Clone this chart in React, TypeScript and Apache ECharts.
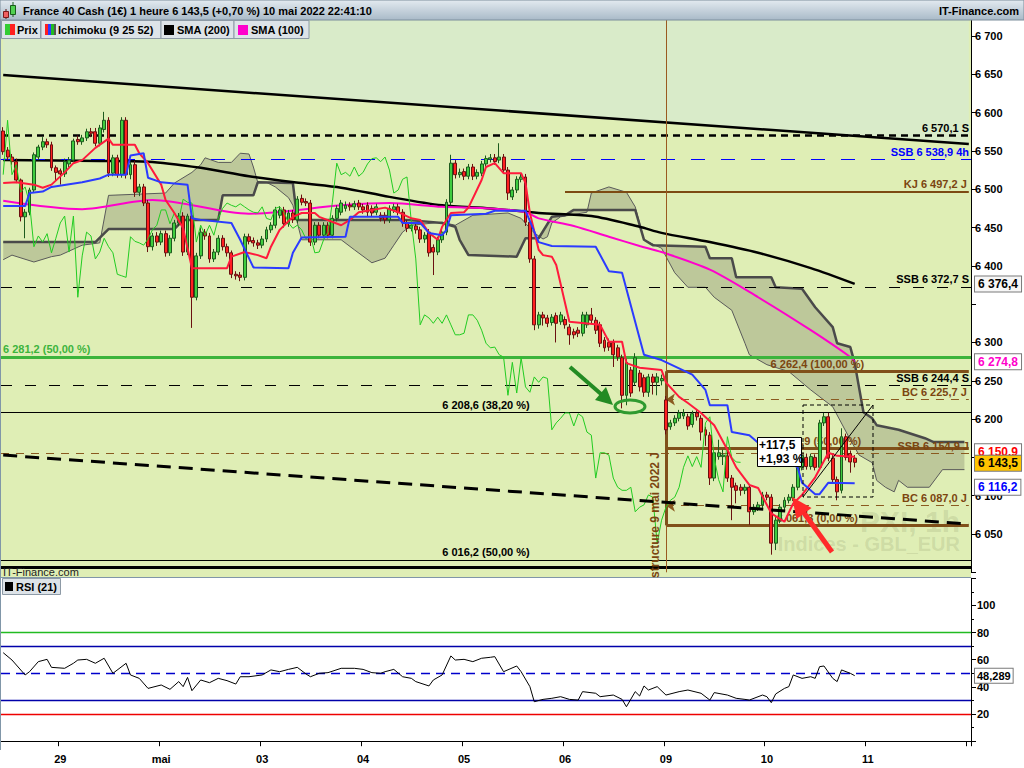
import React, { useEffect, useRef } from "react";
import * as echarts from "echarts";

// ---------- time slots ----------
const SLOTS_PER_DAY = 23;
const FIRST_DAY_SLOT = 13;
const SLOT_COUNT = 221;
const dayLabels = ["29", "mai", "03", "04", "05", "06", "09", "10", "11", ""];

// ---------- candles [open, close, low, high] ----------
const candles: number[][] = [
  [6576,6549,6545,6581],[6551,6542,6538,6555],[6542,6536,6532,6546],[6536,6512,6508,6540],[6512,6464,6458,6514],
  [6464,6470,6436,6474],[6470,6499,6466,6502],[6499,6545,6496,6548],[6542,6555,6538,6558],[6555,6562,6551,6568],
  [6562,6558,6554,6566],[6558,6528,6524,6562],[6528,6522,6512,6531],[6524,6520,6506,6527],[6520,6536,6516,6540],
  [6533,6538,6529,6542],[6538,6563,6535,6566],[6565,6562,6558,6570],[6562,6567,6558,6571],[6567,6575,6563,6579],
  [6575,6573,6568,6580],[6575,6560,6556,6580],[6560,6580,6556,6584],[6578,6590,6574,6601],[6590,6521,6516,6594],
  [6521,6541,6517,6545],[6541,6519,6515,6545],[6519,6590,6515,6594],[6590,6519,6514,6594],[6519,6532,6513,6536],
  [6532,6496,6490,6537],[6496,6503,6491,6507],[6503,6482,6478,6507],[6482,6425,6418,6486],[6425,6439,6420,6443],
  [6439,6431,6426,6444],[6431,6442,6427,6446],[6442,6417,6412,6446],[6417,6436,6413,6440],[6436,6456,6432,6460],
  [6456,6465,6452,6469],[6465,6418,6413,6470],[6418,6465,6414,6468],[6465,6359,6319,6469],[6359,6413,6355,6417],
  [6413,6444,6409,6450],[6444,6439,6434,6448],[6439,6409,6404,6443],[6409,6418,6405,6422],[6418,6436,6414,6440],
  [6436,6425,6420,6440],[6425,6417,6412,6429],[6417,6389,6384,6420],[6389,6387,6382,6393],[6388,6385,6380,6392],
  [6385,6438,6381,6442],[6438,6432,6428,6442],[6433,6430,6425,6437],[6430,6427,6422,6434],[6427,6435,6423,6439],
  [6435,6447,6431,6451],[6447,6453,6443,6457],[6453,6473,6449,6477],[6466,6473,6462,6478],[6473,6455,6450,6477],
  [6455,6469,6451,6473],[6469,6460,6456,6473],[6460,6487,6456,6491],[6488,6483,6479,6493],[6484,6482,6478,6488],
  [6482,6431,6426,6486],[6431,6453,6427,6457],[6453,6440,6436,6457],[6440,6453,6436,6457],[6453,6440,6436,6457],
  [6440,6462,6436,6466],[6462,6475,6458,6479],[6470,6482,6466,6486],[6475,6479,6471,6484],[6479,6477,6472,6483],
  [6477,6481,6473,6485],[6482,6477,6473,6486],[6477,6473,6468,6481],[6479,6470,6465,6483],[6475,6469,6464,6479],
  [6470,6477,6466,6481],[6466,6462,6458,6470],[6466,6460,6455,6470],[6460,6475,6456,6479],[6473,6477,6469,6481],
  [6477,6470,6466,6481],[6470,6456,6451,6474],[6456,6449,6444,6460],[6449,6453,6445,6457],[6452,6447,6442,6456],
  [6447,6435,6430,6451],[6435,6440,6430,6444],[6444,6417,6412,6448],[6424,6418,6388,6428],[6418,6434,6414,6438],
  [6434,6444,6430,6448],[6444,6483,6440,6487],[6483,6534,6479,6545],[6534,6519,6514,6538],[6519,6522,6515,6527],
  [6523,6517,6512,6527],[6517,6529,6513,6533],[6529,6517,6512,6533],[6517,6522,6513,6526],[6521,6533,6517,6537],
  [6533,6540,6529,6544],[6539,6541,6535,6546],[6541,6536,6532,6546],[6538,6542,6534,6560],[6542,6525,6520,6546],
  [6525,6495,6486,6529],[6490,6499,6486,6503],[6499,6513,6495,6517],[6513,6516,6509,6521],[6516,6457,6452,6520],
  [6457,6409,6404,6462],[6409,6323,6316,6413],[6323,6336,6318,6340],[6336,6332,6322,6340],[6332,6325,6320,6336],
  [6326,6333,6322,6337],[6335,6325,6300,6339],[6327,6336,6323,6340],[6330,6323,6318,6334],[6320,6310,6297,6324],
  [6314,6310,6305,6318],[6316,6312,6307,6320],[6312,6336,6308,6340],[6323,6336,6319,6340],[6336,6329,6325,6345],
  [6329,6316,6311,6333],[6323,6299,6294,6327],[6303,6293,6288,6307],[6300,6294,6289,6305],[6300,6284,6268,6304],
  [6293,6281,6276,6297],[6280,6231,6214,6284],[6231,6274,6218,6279],[6264,6234,6229,6268],[6248,6280,6244,6286],
  [6260,6242,6236,6264],[6254,6235,6229,6258],[6235,6255,6229,6259],[6255,6248,6232,6259],[6248,6255,6231,6260],
  [6250,6253,6244,6258],[6225,6186,6180,6230],[6190,6195,6186,6199],[6195,6201,6191,6205],[6201,6208,6197,6212],
  [6204,6208,6200,6213],[6203,6191,6186,6207],[6193,6207,6189,6211],[6208,6203,6198,6212],[6201,6183,6172,6205],
  [6186,6179,6165,6190],[6179,6123,6114,6183],[6123,6156,6119,6160],[6151,6156,6147,6173],[6151,6153,6140,6160],
  [6152,6123,6118,6160],[6123,6111,6068,6127],[6113,6107,6090,6117],[6111,6107,6100,6115],[6107,6111,6102,6115],
  [6111,6079,6062,6115],[6079,6085,6075,6089],[6084,6088,6080,6092],[6088,6101,6084,6105],[6101,6098,6094,6105],
  [6098,6038,6023,6102],[6038,6068,6029,6072],[6068,6085,6064,6089],[6085,6094,6081,6098],[6094,6098,6090,6102],
  [6097,6111,6093,6115],[6111,6137,6107,6141],[6137,6152,6133,6156],[6150,6138,6134,6155],[6138,6151,6134,6155],
  [6150,6137,6133,6154],[6137,6195,6133,6199],[6195,6203,6191,6208],[6203,6149,6145,6208],[6149,6121,6116,6153],
  [6121,6105,6094,6125],[6107,6177,6103,6188],[6177,6150,6146,6181],[6155,6144,6130,6159],[6149,6143.5,6137,6153],
];

// ---------- indicator lines [slot, value] ----------
const tenkan = [[0,6508],[3,6509],[7,6506],[9,6502],[11,6506],[14,6522],[16,6534],[18,6538],[21,6554],[24,6566],[25,6558],[30,6558],[31,6547],[33,6534],[36,6506],[37,6486],[39,6469],[41,6449],[43,6397],[51,6397],[52,6412],[55,6418],[58,6414],[60,6410],[61,6425],[63,6447],[66,6464],[68,6469],[71,6469],[72,6464],[77,6453],[79,6460],[81,6470],[84,6473],[87,6476],[90,6470],[93,6462],[95,6460],[97,6443],[99,6434],[100,6451],[102,6469],[105,6470],[106,6476],[109,6512],[110,6529],[112,6534],[114,6521],[118,6521],[119,6508],[120,6469],[122,6421],[123,6414],[125,6412],[126,6401],[129,6327],[136,6323],[138,6301],[141,6301],[142,6273],[145,6267],[150,6264],[151,6248],[154,6229],[156,6221],[159,6208],[162,6192],[165,6160],[167,6137],[170,6114],[172,6110],[175,6077],[178,6066],[180,6090],[182,6101],[185,6124],[188,6156],[190,6152],[194,6150.9]];
const kijun = [[0,6478],[5,6478],[6,6495],[9,6497],[11,6503],[18,6509],[22,6514],[24,6519],[28,6519],[29,6544],[32,6547],[33,6515],[36,6509],[42,6506],[43,6462],[45,6460],[52,6456],[54,6434],[57,6398],[65,6397],[66,6417],[68,6437],[78,6438],[79,6464],[90,6464],[91,6456],[95,6456],[97,6443],[100,6440],[101,6447],[102,6466],[110,6468],[112,6472],[119,6472],[122,6431],[125,6426],[135,6425],[138,6393],[141,6391],[146,6284],[150,6277],[157,6258],[160,6238],[161,6218],[165,6218],[166,6183],[170,6179],[172,6169],[181,6137],[182,6117],[185,6102],[186,6102],[188,6117],[194,6116.2]];
const ssa = [[0,6408],[2,6414],[7,6405],[11,6412],[13,6414],[18,6427],[22,6430],[24,6492],[37,6495],[39,6508],[43,6522],[45,6532],[46,6541],[49,6535],[52,6535],[54,6547],[56,6546],[57,6529],[58,6509],[60,6509],[62,6503],[65,6489],[66,6479],[68,6434],[77,6434],[80,6421],[84,6404],[87,6410],[89,6427],[91,6444],[93,6453],[100,6457],[103,6453],[107,6466],[115,6469],[118,6462],[121,6443],[123,6435],[124,6438],[125,6456],[127,6464],[133,6470],[134,6495],[138,6503],[142,6496],[144,6477],[146,6434],[147,6431],[150,6423],[153,6391],[156,6372],[160,6372],[162,6359],[166,6342],[169,6299],[170,6284],[174,6271],[179,6262],[184,6238],[189,6216],[193,6173],[195,6153],[198,6143],[199,6120],[201,6111],[203,6105],[204,6120],[206,6111],[211,6111],[214,6134],[219,6134]];
const ssb = [[0,6431],[21,6431],[24,6448],[39,6448],[41,6460],[49,6460],[50,6492],[57,6492],[58,6509],[66,6508],[67,6460],[92,6460],[100,6456],[103,6451],[104,6434],[106,6414],[117,6412],[119,6436],[122,6436],[125,6464],[128,6466],[130,6473],[144,6473],[146,6434],[148,6427],[160,6425],[161,6410],[166,6410],[167,6385],[175,6385],[176,6372],[182,6370],[185,6346],[189,6320],[190,6299],[193,6294],[194,6273],[196,6209],[198,6201],[199,6192],[204,6186],[210,6175],[212,6170],[219,6170]];
const sma200 = [[0,6538],[22,6537],[33,6536],[45,6528],[56,6517],[68,6508],[77,6502],[88,6490],[100,6479],[111,6475],[122,6469],[134,6465],[145,6451],[150,6443],[161,6431],[172,6417],[184,6397],[194,6376.4]];
const sma100 = [[0,6485],[18,6474],[34,6486],[56,6468],[77,6479],[88,6482],[100,6477],[111,6475],[119,6470],[122,6462],[130,6452],[138,6438],[145,6426],[150,6418],[161,6395],[172,6359],[184,6316],[193,6281],[194,6274.8]];
const rsi = [[0,65.2],[2,59.8],[5,48.8],[6,51.2],[8,58.6],[10,60.3],[11,54.4],[14,53.7],[16,57.4],[17,59.8],[19,60.3],[21,57.4],[23,61.1],[25,50],[28,57.4],[29,48.8],[31,46.3],[33,38.9],[36,41.4],[38,38.2],[40,43.9],[41,40.2],[42,47],[43,37.2],[45,45.1],[47,43.1],[49,46.3],[51,44.6],[53,42.1],[54,47.5],[56,47.5],[59,48.8],[61,52.5],[63,51.2],[65,52.9],[67,54.4],[69,49.5],[70,47.5],[72,50],[74,50.5],[77,53.7],[80,53.7],[82,52.9],[84,50.5],[86,50],[87,51.2],[89,52.9],[91,47.5],[93,46.3],[94,43.9],[97,40.7],[98,45.1],[100,48.8],[102,62.8],[103,59.8],[105,60.3],[107,58.6],[109,61.1],[111,61.8],[112,62.3],[114,51.2],[117,55.4],[118,51.2],[120,40.2],[121,29.1],[123,30.8],[125,31.6],[127,32.8],[129,30.8],[131,30.3],[132,36.5],[135,35.3],[136,32.8],[139,34],[141,30.8],[142,25.4],[144,36.5],[145,33.3],[146,40.7],[147,37.7],[149,40.2],[151,34],[154,36.5],[156,37.7],[159,35.3],[161,30.3],[162,35.8],[165,34],[167,31.6],[169,30.8],[170,30.3],[173,34],[174,32.8],[175,28.4],[176,34.8],[178,38.9],[179,40.2],[180,48.8],[182,46.3],[184,47.5],[185,46.3],[186,54.9],[187,55.4],[189,46.3],[190,43.9],[191,52.5],[193,50],[194,48.289]];
const rsiLevels = [80, 70, 50, 30, 20];
const topTrend = [[0,6649],[220,6559]];
const lowTrend = [[0,6153],[220,6063]];
const CHIKOU_SHIFT = 26;

// ---------- horizontal levels ----------
const levels = [
  { v: 6570.1, pre: "", suf: " S", kind: "blackBold", from: 0, pos: "end" },
  { v: 6538.9, pre: "SSB ", suf: " 4h", kind: "blue", from: 0, pos: "end" },
  { v: 6497.2, pre: "KJ ", suf: " J", kind: "brown", from: 128, pos: "end" },
  { v: 6372.7, pre: "SSB ", suf: " S", kind: "black", from: 0, pos: "end" },
  { v: 6281.2, pre: "", suf: " (50,00 %)", kind: "green", from: 0, pos: "start" },
  { v: 6262.4, pre: "", suf: " (100,00 %)", kind: "fib", from: 151, pos: "middle" },
  { v: 6244.4, pre: "SSB ", suf: " S", kind: "black", from: 0, pos: "end" },
  { v: 6225.7, pre: "BC ", suf: " J", kind: "brownDash", from: 151, pos: "end" },
  { v: 6208.6, pre: "", suf: " (38,20 %)", kind: "thin", from: 0, pos: "middle" },
  { v: 6161.9, pre: "", suf: " (50,00 %)", kind: "fib", from: 151, pos: "middle" },
  { v: 6154.9, pre: "SSB ", suf: " J", kind: "brownDash", from: 0, pos: "end" },
  { v: 6087.0, pre: "BC ", suf: " J", kind: "brownDash", from: 151, pos: "end" },
  { v: 6061.3, pre: "", suf: " (0,00 %)", kind: "fib", from: 151, pos: "middle" },
  { v: 6016.2, pre: "", suf: " (50,00 %)", kind: "thin", from: 0, pos: "middle" },
  { v: 6007, pre: "", suf: "", kind: "thick", from: 0, pos: "none" },
];
// last values shown on the price axis (nudge = label shift to keep boxes readable)
const lastValues = [
  { v: 6376.4, color: "#000000", bg: "#f6f6f6", nudge: 0 },
  { v: 6274.8, color: "#ff00cc", bg: "#ffffff", nudge: 0 },
  { v: 6150.9, color: "#ff0000", bg: "#ffffff", nudge: -5 },
  { v: 6143.5, color: "#000000", bg: "#ffc400", nudge: 1 },
  { v: 6116.2, color: "#0000ff", bg: "#ffffff", nudge: 4 },
];
const LAST_RSI = 48.289;
const hiddenPriceLabels = [6000, 6150, 6350];

const FONT = '"Liberation Sans", Arial, Helvetica, sans-serif';
const BROWN = "#7b4510";
const INVISIBLE = { color: "rgba(0,0,0,0)", width: 0, opacity: 1 };

function fr(v: number, dec = 1) {
  const s = v.toFixed(dec);
  const parts = s.split(".");
  const g = parts[0].replace(/\B(?=(\d{3})+(?!\d))/g, " ");
  return parts.length > 1 ? g + "," + parts[1] : g;
}

const isDayStart = (i: number) => i >= FIRST_DAY_SLOT && (i - FIRST_DAY_SLOT) % SLOTS_PER_DAY === 0;

const lvlStyle: any = {
  blackBold: { color: "#000", width: 2.5, type: [7, 5] },
  blue: { color: "#0000ff", width: 1, type: [14, 16] },
  brown: { color: "#7d4a12", width: 2, type: "solid" },
  black: { color: "#000", width: 1, type: [11, 13] },
  green: { color: "#3cb43c", width: 3, type: "solid" },
  fib: { color: "#80501a", width: 3, type: "solid" },
  brownDash: { color: "#8a5a20", width: 1, type: [8, 7] },
  thin: { color: "#000", width: 1, type: "solid" },
  thick: { color: "#000", width: 3, type: "solid" },
};
const lvlText: any = {
  blackBold: "#000", blue: "#0000ff", brown: BROWN, black: "#000", green: "#3cb43c",
  fib: BROWN, brownDash: BROWN, thin: "#000", thick: "#000",
};

function txt(x: number, y: number, text: string, font: string, fill: string, align = "left", z = 31, extra: any = {}) {
  return {
    type: "text", z, silent: true, x, y, ...extra,
    style: { text, font, fill, align, verticalAlign: "middle", textAlign: align, textVerticalAlign: "middle" },
  };
}

function buildOption() {
  const slots = Array.from({ length: SLOT_COUNT }, (_, i) => String(i));
  const closes = candles.map((c) => c[1]);
  const chikou = closes.slice(CHIKOU_SHIFT).map((c, i) => [i, c]);
  const lastSlot = SLOT_COUNT - 1;

  const levelMarks: any[] = levels.map((l) => {
    const lineStyle = { ...lvlStyle[l.kind] };
    const posMap: any = { end: "insideEndTop", start: "insideStartTop", middle: "insideMiddleTop" };
    const label = l.pos === "none"
      ? { show: false }
      : {
          show: true, formatter: l.pre + fr(l.v) + l.suf, position: posMap[l.pos], color: lvlText[l.kind],
          fontWeight: "bold", fontSize: 11, fontFamily: FONT, distance: 2,
        };
    if (l.from === 0) return { yAxis: l.v, lineStyle, label };
    const arrow = l.kind === "brownDash";
    return [
      { coord: [l.from, l.v], lineStyle, label, symbol: arrow ? "arrow" : "none", symbolSize: arrow ? 9 : 0 },
      { coord: [lastSlot, l.v], symbol: "none" },
    ];
  });
  // structure vertical lines (9 mai)
  levelMarks.push({ xAxis: 151, lineStyle: { color: "#9a5a20", width: 1, type: "solid" }, label: { show: false } });
  levelMarks.push([
    { coord: [151, 6262.4], lineStyle: { color: "#80501a", width: 3, type: "solid" }, label: { show: false }, symbol: "none" },
    { coord: [151, 6061.3], symbol: "none" },
  ]);

  const boxMarks = lastValues.map((b) => ({
    yAxis: b.v,
    lineStyle: INVISIBLE,
    label: {
      show: true, position: "end", distance: 4, offset: [0, b.nudge], formatter: fr(b.v), color: b.color, backgroundColor: b.bg,
      borderColor: "#7a7a7a", borderWidth: 1, padding: [2, 3, 1, 3], fontWeight: "bold", fontSize: 12, fontFamily: FONT,
      opacity: 1,
    },
  }));

  const rsiColors: any = { 80: "#22bb22", 70: "#0000aa", 50: "#0000cc", 30: "#0000aa", 20: "#ee0000" };
  const rsiMarks: any[] = rsiLevels.map((v) => ({
    yAxis: v,
    lineStyle: { color: rsiColors[v], width: 1.3, type: v === 50 ? [9, 6] : "solid" },
    label: { show: false },
  }));
  rsiMarks.push({
    yAxis: LAST_RSI,
    lineStyle: INVISIBLE,
    label: {
      show: true, position: "end", distance: 4, formatter: fr(LAST_RSI, 3), color: "#000", backgroundColor: "#ffffff",
      borderColor: "#7a7a7a", borderWidth: 1, padding: [2, 2, 1, 2], fontWeight: "bold", fontSize: 11, fontFamily: FONT,
      opacity: 1,
    },
  });

  const lineBase = { type: "line", symbol: "none", showSymbol: false, silent: true, xAxisIndex: 0, yAxisIndex: 0 };
  const header = new echarts.graphic.LinearGradient(0, 0, 0, 1, [
    { offset: 0, color: "#e3eaf0" },
    { offset: 1, color: "#a9bac8" },
  ]);
  const B11 = "bold 11px " + FONT;

  const legendBox = (x: number, w: number) => ({
    type: "rect", z: 31, silent: true, shape: { x, y: 20.5, width: w, height: 18 },
    style: { fill: "#dde3e8", stroke: "#8d9aa6", lineWidth: 1 },
  });
  const sq = (x: number, y: number, w: number, h: number, fill: string, z = 32) => ({
    type: "rect", z, silent: true, shape: { x, y, width: w, height: h }, style: { fill },
  });

  const graphic: any[] = [
    // price panel background
    { type: "rect", z: -10, silent: true, shape: { x: 1, y: 20, width: 970, height: 557 }, style: { fill: "#dfeeb5" } },
    // frame
    { type: "line", z: 9, silent: true, shape: { x1: 0.5, y1: 20, x2: 0.5, y2: 750 }, style: { stroke: "#8096a8", lineWidth: 1 } },
    { type: "line", z: 9, silent: true, shape: { x1: 0, y1: 577.5, x2: 971, y2: 577.5 }, style: { stroke: "#8096a8", lineWidth: 1 } },
    // watermark
    txt(960, 521, "PXI, 1h", "bold 30px " + FONT, "rgba(90,100,60,0.15)", "right", 1),
    txt(960, 544, "Indices - GBL_EUR", "bold 20px " + FONT, "rgba(90,100,60,0.15)", "right", 1),
    // header bar
    { type: "rect", z: 30, silent: true, shape: { x: 0, y: 0, width: 1024, height: 20 }, style: { fill: header, stroke: "#7d8e9c", lineWidth: 1 } },
    // header icon
    { type: "line", z: 31, silent: true, shape: { x1: 6, y1: 9, x2: 6, y2: 19 }, style: { stroke: "#5a1010", lineWidth: 1 } },
    { type: "rect", z: 32, silent: true, shape: { x: 3.5, y: 11.5, width: 5, height: 6 }, style: { fill: "#f06060", stroke: "#7a1a1a" } },
    { type: "line", z: 31, silent: true, shape: { x1: 13, y1: 2, x2: 13, y2: 17 }, style: { stroke: "#1a5a1a", lineWidth: 1 } },
    { type: "rect", z: 32, silent: true, shape: { x: 10.5, y: 5.5, width: 5, height: 9 }, style: { fill: "#50d050", stroke: "#1a5a1a" } },
    txt(23, 11, "France 40 Cash (1€) 1 heure 6 143,5 (+0,70 %) 10 mai 2022 22:41:10", "bold 11px " + FONT, "#000"),
    txt(1019, 11, "IT-Finance.com", B11, "#000", "right"),
    // legend boxes
    legendBox(1.5, 39), sq(5, 24, 5, 11, "#33cc33"), sq(10, 24, 5, 11, "#ff2020"), txt(17, 30, "Prix", B11, "#000"),
    legendBox(41, 120), sq(45, 24, 3, 11, "#ff2020"), sq(48, 24, 3, 11, "#2b3bff"), sq(51, 24, 3, 11, "#22bb22"), sq(54, 24, 2, 11, "#555555"),
    txt(58, 30, "Ichimoku (9 25 52)", B11, "#000"),
    legendBox(161, 73), sq(164, 25, 10, 10, "#000000"), txt(177, 30, "SMA (200)", B11, "#000"),
    legendBox(234, 75), sq(238, 25, 10, 10, "#ff00cc"), txt(251, 30, "SMA (100)", B11, "#000"),
    // bottom-left brand
    txt(3, 572, "IT-Finance.com", "11px " + FONT, "#222", "left", 20),
    // RSI legend
    { type: "rect", z: 20, silent: true, shape: { x: 2.5, y: 578.5, width: 58, height: 16 }, style: { fill: "#dde3e8", stroke: "#8d9aa6", lineWidth: 1 } },
    sq(5, 582, 8, 9, "#000000", 21),
    txt(16, 587, "RSI (21)", B11, "#000", "left", 21),
    // structure text
    txt(655, 515, "structure 9 mai 2022 J", "bold 12px " + FONT, BROWN, "center", 20, { rotation: Math.PI / 2 }),
    // green ellipse + arrow
    { type: "ellipse", z: 20, silent: true, shape: { cx: 630, cy: 406.5, rx: 15, ry: 6.5 }, style: { fill: "none", stroke: "#2f9a2f", lineWidth: 3 } },
    { type: "line", z: 20, silent: true, shape: { x1: 570, y1: 367, x2: 601, y2: 394 }, style: { stroke: "#238b23", lineWidth: 4 } },
    { type: "polygon", z: 20, silent: true, shape: { points: [[613, 405], [595, 400], [606, 387]] }, style: { fill: "#238b23" } },
    // red arrow
    { type: "line", z: 20, silent: true, shape: { x1: 832, y1: 552, x2: 804, y2: 513 }, style: { stroke: "#ff2a2a", lineWidth: 5 } },
    { type: "polygon", z: 20, silent: true, shape: { points: [[792, 497], [811.5, 508], [796.5, 519]] }, style: { fill: "#ff2a2a" } },
    // measure tool
    { type: "rect", z: 19, silent: true, shape: { x: 803, y: 405, width: 70, height: 92 }, style: { fill: "none", stroke: "#000", lineWidth: 1, lineDash: [4, 3] } },
    { type: "line", z: 19, silent: true, shape: { x1: 803, y1: 497, x2: 873, y2: 405 }, style: { stroke: "#000", lineWidth: 1 } },
    { type: "rect", z: 21, silent: true, shape: { x: 757.5, y: 437.5, width: 44, height: 29 }, style: { fill: "#ffffff", stroke: "#000", lineWidth: 1 } },
    txt(759, 445, "+117,5", "bold 12px " + FONT, "#000", "left", 22),
    txt(759, 459, "+1,93 %", "bold 12px " + FONT, "#000", "left", 22),
  ];

  return {
    animation: false,
    backgroundColor: "#ffffff",
    textStyle: { fontFamily: FONT },
    graphic,
    grid: [
      { left: 1, top: 16.85, width: 970, height: 555.45, outerBoundsMode: "none", containLabel: false },
      { left: 1, top: 578.3, width: 970, height: 162.9, outerBoundsMode: "none", containLabel: false },
    ],
    xAxis: [
      { type: "category", gridIndex: 0, data: slots, boundaryGap: true, show: false },
      {
        type: "category", gridIndex: 1, data: slots, boundaryGap: true, offset: 8,
        axisLine: { show: true, lineStyle: { color: "#000", width: 1 } },
        axisTick: { show: true, interval: (i: number) => isDayStart(i), length: 5, lineStyle: { color: "#000" } },
        axisLabel: {
          interval: (i: number) => isDayStart(i),
          formatter: (_v: string, i: number) => (isDayStart(i) ? dayLabels[(i - FIRST_DAY_SLOT) / SLOTS_PER_DAY] ?? "" : ""),
          color: "#000", fontWeight: "bold", fontSize: 11, fontFamily: FONT, margin: 4,
        },
        splitLine: { show: false },
      },
    ],
    yAxis: [
      {
        type: "value", gridIndex: 0, position: "right", min: 6000, max: 6725, interval: 50,
        splitLine: { show: false },
        axisLine: { show: true, lineStyle: { color: "#000" } },
        axisTick: { show: true, length: 5, lineStyle: { color: "#000" } },
        axisLabel: {
          formatter: (v: number) => (v % 50 !== 0 || hiddenPriceLabels.includes(v) ? "" : fr(v, 0)),
          color: "#000", fontWeight: "bold", fontSize: 11, fontFamily: FONT, margin: 4,
        },
      },
      {
        type: "value", gridIndex: 1, position: "right", min: 0, max: 120, interval: 20,
        splitLine: { show: false },
        axisLine: { show: true, lineStyle: { color: "#000" } },
        axisTick: { show: true, length: 5, lineStyle: { color: "#000" } },
        minorTick: { show: true, splitNumber: 2, length: 3, lineStyle: { color: "#000" } },
        axisLabel: {
          formatter: (v: number) => (v >= 20 && v <= 100 ? String(v) : ""),
          color: "#000", fontWeight: "bold", fontSize: 11, fontFamily: FONT, margin: 6,
        },
      },
    ],
    series: [
      {
        ...lineBase, name: "channel", z: 1, data: topTrend,
        lineStyle: { color: "#000", width: 2.5 },
        areaStyle: { origin: "end", color: "#d9ebc9", opacity: 1 },
      },
      {
        type: "custom", name: "cloud", z: 2, silent: true, xAxisIndex: 0, yAxisIndex: 0,
        data: [[0, ssa[0][1]]],
        renderItem: (_p: any, api: any) => {
          const pts = ssa.map((p) => api.coord(p)).concat(ssb.slice().reverse().map((p) => api.coord(p)));
          return { type: "polygon", shape: { points: pts }, style: { fill: "rgba(135,140,110,0.38)", stroke: "none" } };
        },
      },
      { ...lineBase, name: "SSA", z: 3, data: ssa, lineStyle: { color: "#5a5a5a", width: 1 } },
      { ...lineBase, name: "SSB", z: 3, data: ssb, lineStyle: { color: "#4a4a4a", width: 2.5 } },
      { ...lineBase, name: "SMA200", z: 4, data: sma200, smooth: 0.3, lineStyle: { color: "#000", width: 2.5 } },
      { ...lineBase, name: "SMA100", z: 4, data: sma100, smooth: 0.3, lineStyle: { color: "#ff00cc", width: 2 } },
      {
        type: "candlestick", name: "Prix", z: 5, silent: true, xAxisIndex: 0, yAxisIndex: 0, data: candles, barWidth: 3.4,
        itemStyle: { color: "#3fcc3f", color0: "#ff2020", borderColor: "#1d5a1d", borderColor0: "#6a1010", borderWidth: 1 },
      },
      { ...lineBase, name: "Chikou", z: 6, data: chikou, lineStyle: { color: "#22cc22", width: 1 } },
      { ...lineBase, name: "Tenkan", z: 6, data: tenkan, lineStyle: { color: "#ff1a3c", width: 2 } },
      { ...lineBase, name: "Kijun", z: 6, data: kijun, lineStyle: { color: "#2b3bff", width: 2 } },
      {
        ...lineBase, name: "lowTrend", z: 7, data: lowTrend,
        lineStyle: { color: "#000", width: 3, type: [14, 8] },
      },
      {
        ...lineBase, name: "levels", z: 8, data: [],
        markLine: { silent: true, symbol: ["none", "none"], emphasis: { disabled: true }, data: levelMarks },
      },
      {
        ...lineBase, name: "lastValues", z: 9, data: [], clip: false,
        markLine: { silent: true, symbol: ["none", "none"], emphasis: { disabled: true }, data: boxMarks },
      },
      {
        type: "line", name: "RSI", symbol: "none", showSymbol: false, silent: true, xAxisIndex: 1, yAxisIndex: 1, z: 5,
        clip: false, data: rsi, lineStyle: { color: "#000", width: 1 },
        markLine: { silent: true, symbol: ["none", "none"], emphasis: { disabled: true }, data: rsiMarks },
      },
    ],
  };
}

export default function App() {
  const ref = useRef<HTMLDivElement>(null);
  useEffect(() => {
    document.body.style.margin = "0";
    const chart = echarts.init(ref.current as HTMLDivElement, null, { renderer: "svg" });
    chart.setOption(buildOption() as any);
    return () => chart.dispose();
  }, []);
  return <div ref={ref} style={{ width: 1024, height: 768 }} />;
}
